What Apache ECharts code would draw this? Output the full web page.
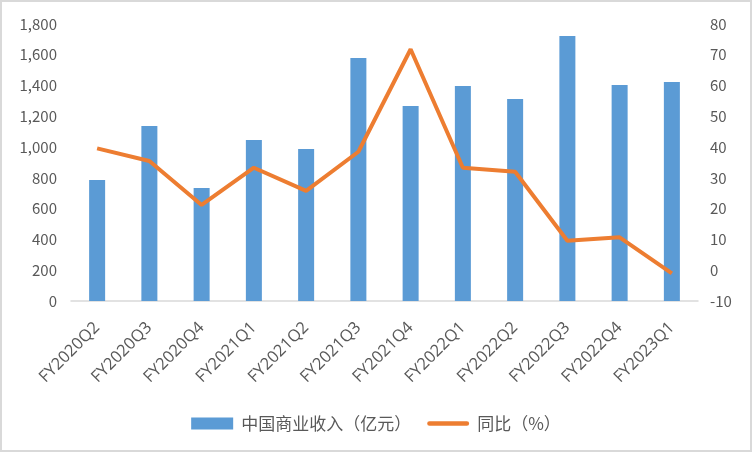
<!DOCTYPE html>
<html><head><meta charset="utf-8">
<script src="https://cdn.jsdelivr.net/npm/echarts@6/dist/echarts.min.js"></script>
<style>html,body{margin:0;padding:0;background:#fff}#c{width:748px;height:448px;border:2px solid #d9d9d9}</style>
</head><body><div id="c"></div>
<script>
const categories = ['FY2020Q2','FY2020Q3','FY2020Q4','FY2021Q1','FY2021Q2','FY2021Q3','FY2021Q4','FY2022Q1','FY2022Q2','FY2022Q3','FY2022Q4','FY2023Q1'];
const revenue = [786, 1137, 734, 1046, 988, 1579, 1267, 1397, 1313, 1722, 1404, 1423];
const yoy = [39.6, 35.5, 21.2, 33.3, 25.8, 38.5, 71.8, 33.3, 32.0, 9.6, 10.7, -1.0];
const leftTicks = {min:0, max:1800, interval:200};
const rightTicks = {min:-10, max:80, interval:10};
const font = '"Noto Sans CJK SC", "Open Sans", sans-serif';
const chart = echarts.init(document.getElementById('c'));
chart.setOption({
  animation:false,
  textStyle:{fontFamily:font},
  grid:{left:69, right:52, top:22, bottom:149, containLabel:false},
  legend:{top:408, left:'center', itemGap:16, itemWidth:42, itemHeight:12,
    textStyle:{color:'#595959', fontSize:17, fontFamily:font, padding:[0,0,0,3]},
    data:[{name:'中国商业收入（亿元）', icon:'rect'},
          {name:'同比（%）', icon:'path://M2.5,0 L42.5,0 A2.5,2.5 0 0 1 42.5,5 L2.5,5 A2.5,2.5 0 0 1 2.5,0 Z'}]},
  xAxis:{type:'category', data:categories,
    axisLine:{lineStyle:{color:'#d9d9d9', width:1.5}}, axisTick:{show:false},
    axisLabel:{rotate:45, color:'#595959', fontSize:16.5, margin:24, interval:0, fontFamily:'"Open Sans", sans-serif'}},
  yAxis:[
    {type:'value', min:leftTicks.min, max:leftTicks.max, interval:leftTicks.interval,
     splitLine:{show:false}, axisLine:{show:false}, axisTick:{show:false},
     axisLabel:{color:'#595959', fontSize:15, margin:14,
       formatter:v=>v.toLocaleString('en-US')}},
    {type:'value', min:rightTicks.min, max:rightTicks.max, interval:rightTicks.interval,
     splitLine:{show:false}, axisLine:{show:false}, axisTick:{show:false},
     axisLabel:{color:'#595959', fontSize:15, margin:12}}
  ],
  series:[
    {name:'中国商业收入（亿元）', type:'bar', data:revenue, barWidth:16,
     itemStyle:{color:'#5B9BD5'}},
    {name:'同比（%）', type:'line', yAxisIndex:1, data:yoy, symbol:'none',
     lineStyle:{color:'#ED7D31', width:4}, itemStyle:{color:'#ED7D31'}}
  ]
});
</script></body></html>
